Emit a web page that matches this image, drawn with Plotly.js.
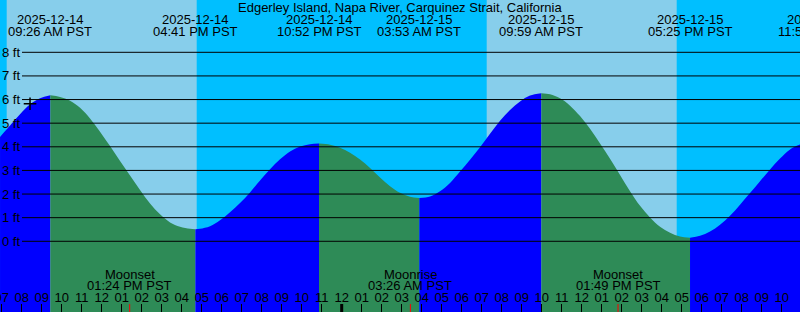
<!DOCTYPE html>
<html><head><meta charset="utf-8">
<script src="https://cdn.plot.ly/plotly-3.0.1.min.js"></script>
<style>html,body{margin:0;padding:0;background:#00BFFF;} #chart{width:800px;height:312px;}</style>
</head><body><div id="chart"></div>
<script>
const stationName = "Edgerley Island, Napa River, Carquinez Strait, California";
const timeZoneLabel = "PST";

// Tide height (ft)
const tideTimes = [
 "2025-12-14 06:55","2025-12-14 07:25","2025-12-14 07:55","2025-12-14 08:25","2025-12-14 08:55",
 "2025-12-14 09:26","2025-12-14 09:55","2025-12-14 10:25","2025-12-14 10:55","2025-12-14 11:25",
 "2025-12-14 11:55","2025-12-14 12:25","2025-12-14 12:55","2025-12-14 13:25","2025-12-14 13:55",
 "2025-12-14 14:25","2025-12-14 14:55","2025-12-14 15:25","2025-12-14 15:55","2025-12-14 16:25",
 "2025-12-14 16:41","2025-12-14 16:55","2025-12-14 17:25","2025-12-14 17:55","2025-12-14 18:25",
 "2025-12-14 18:55","2025-12-14 19:25","2025-12-14 19:55","2025-12-14 20:25","2025-12-14 20:55",
 "2025-12-14 21:25","2025-12-14 21:55","2025-12-14 22:25","2025-12-14 22:52","2025-12-14 23:25",
 "2025-12-14 23:55","2025-12-15 00:25","2025-12-15 00:55","2025-12-15 01:25","2025-12-15 01:55",
 "2025-12-15 02:25","2025-12-15 02:55","2025-12-15 03:25","2025-12-15 03:53","2025-12-15 04:25",
 "2025-12-15 04:55","2025-12-15 05:25","2025-12-15 05:55","2025-12-15 06:25","2025-12-15 06:55",
 "2025-12-15 07:25","2025-12-15 07:55","2025-12-15 08:25","2025-12-15 08:55","2025-12-15 09:25",
 "2025-12-15 09:59","2025-12-15 10:25","2025-12-15 10:55","2025-12-15 11:25","2025-12-15 11:55",
 "2025-12-15 12:25","2025-12-15 12:55","2025-12-15 13:25","2025-12-15 13:55","2025-12-15 14:25",
 "2025-12-15 14:55","2025-12-15 15:25","2025-12-15 15:55","2025-12-15 16:25","2025-12-15 16:55",
 "2025-12-15 17:25","2025-12-15 17:55","2025-12-15 18:25","2025-12-15 18:55","2025-12-15 19:25",
 "2025-12-15 19:55","2025-12-15 20:25","2025-12-15 20:55","2025-12-15 21:25","2025-12-15 21:55",
 "2025-12-15 22:25","2025-12-15 22:55"
];
const tideFeet = [
 4.42,4.90,5.38,5.80,6.06,
 6.18,6.11,5.95,5.65,5.20,
 4.64,4.03,3.40,2.79,2.17,
 1.60,1.14,0.80,0.62,0.53,
 0.51,0.53,0.64,0.89,1.23,
 1.62,2.07,2.57,3.05,3.47,
 3.80,4.01,4.11,4.14,4.09,
 3.96,3.75,3.46,3.10,2.70,
 2.33,2.05,1.89,1.83,1.90,
 2.12,2.47,2.95,3.45,3.98,
 4.55,5.10,5.56,5.92,6.17,
 6.27,6.22,6.05,5.74,5.30,
 4.76,4.14,3.49,2.81,2.12,
 1.50,1.01,0.62,0.36,0.20,
 0.15,0.23,0.41,0.70,1.08,
 1.55,2.04,2.54,3.04,3.50,
 3.89,4.10
];

// High / low tide events
const extremeTimes = ["2025-12-14 09:26","2025-12-14 16:41","2025-12-14 22:52","2025-12-15 03:53","2025-12-15 09:59","2025-12-15 17:25","2025-12-15 23:55"];
const extremeFeet = [6.18,0.51,4.14,1.83,6.27,0.15,4.3];

// Moon events
const moonEventNames = ["Moonset","Moonrise","Moonset"];
const moonEventTimes = ["2025-12-14 13:24","2025-12-15 03:26","2025-12-15 13:49"];

// Daylight
const sunriseTimes = ["2025-12-14 07:15","2025-12-15 07:15"];
const sunsetTimes = ["2025-12-14 16:45","2025-12-15 16:45"];

const midnightTimes = ["2025-12-15 00:00"];
const footLevels = [0,1,2,3,4,5,6,7,8];
const footLabels = ["0 ft","1 ft","2 ft","3 ft","4 ft","5 ft","6 ft","7 ft","8 ft"];
const nowTime = ["2025-12-14 08:25"];
const nowFeet = [5.82];

// ---------- layout settings ----------
const FONT = "Liberation Sans, Arial, Helvetica, sans-serif";
const W = 800, H = 312;
const xRange = ["2025-12-14 06:54:54", "2025-12-15 22:54:54"];
const yRange = [-2.993, 10.214];

function parseT(s){ return Date.parse(s.replace(" ","T") + (s.length===16?":00":"") + "Z"); }
function fracX(s){ return (parseT(s)-parseT(xRange[0]))/(parseT(xRange[1])-parseT(xRange[0])); }
function datePart(s){ return s.slice(0,10); }
function clockPart(s){
  let hh = parseInt(s.slice(11,13),10), mm = s.slice(14,16);
  const ap = hh>=12 ? "PM" : "AM";
  let h12 = hh%12; if(h12===0) h12=12;
  return (h12<10?"0":"")+h12+":"+mm+" "+ap+" "+timeZoneLabel;
}

// ---------- traces ----------
const traces = [];
const breaks = [0];
tideTimes.forEach((t,i)=>{ if(i>0 && i<tideTimes.length-1 && extremeTimes.includes(t)) breaks.push(i); });
breaks.push(tideTimes.length-1);
const yBottom = yRange[0]-1;
for(let k=0;k<breaks.length-1;k++){
  const a=breaks[k], b=breaks[k+1];
  const sx = tideTimes.slice(a,b+1), sy = tideFeet.slice(a,b+1);
  const rising = sy[sy.length-1] > sy[0];
  traces.push({x:[sx[0],sx[sx.length-1]], y:[yBottom,yBottom], mode:"lines", line:{width:0}, hoverinfo:"skip", showlegend:false});
  traces.push({x:sx, y:sy, mode:"lines", line:{width:0, shape:"spline", smoothing:1}, fill:"tonexty",
    fillcolor: rising ? "#0000FF" : "#2E8B57", hoverinfo:"skip", showlegend:false});
}
traces.push({x:nowTime, y:nowFeet, mode:"markers", marker:{symbol:"cross-thin", size:9, color:"black", line:{width:1.5,color:"black"}}, showlegend:false, hoverinfo:"skip"});

// ---------- shapes ----------
const shapes = [];
sunriseTimes.forEach((s,i)=>shapes.push({type:"rect", xref:"x", yref:"paper", x0:s, x1:sunsetTimes[i], y0:0, y1:1,
  fillcolor:"#87CEEB", line:{width:0}, layer:"below"}));
footLevels.forEach(l=>shapes.push({type:"line", xref:"paper", yref:"y", x0:22/W, x1:1, y0:l, y1:l, line:{color:"black", width:1}}));
midnightTimes.forEach(m=>shapes.push({type:"line", xref:"x", yref:"paper", x0:m, x1:m, y0:0, y1:8/H, line:{color:"black", width:3}}));
moonEventTimes.forEach(m=>shapes.push({type:"line", xref:"x", yref:"paper", x0:m, x1:m, y0:0, y1:8/H, line:{color:"red", width:1}}));

// ---------- annotations ----------
const ann = [];
const tf = {family:FONT, size:13, color:"black"};
ann.push({text:stationName, xref:"paper", yref:"paper", x:0.5, y:1-7.5/H, xanchor:"center", yanchor:"middle", showarrow:false, font:tf});
extremeTimes.forEach(t=>{
  const f = fracX(t);
  ann.push({text:datePart(t), xref:"paper", yref:"paper", x:f, y:1-19.5/H, xanchor:"center", yanchor:"middle", showarrow:false, font:tf});
  ann.push({text:clockPart(t), xref:"paper", yref:"paper", x:f, y:1-31.3/H, xanchor:"center", yanchor:"middle", showarrow:false, font:tf});
});
moonEventTimes.forEach((t,i)=>{
  ann.push({text:moonEventNames[i], xref:"x", yref:"paper", x:t, y:1-274/H, xanchor:"center", yanchor:"middle", showarrow:false, font:tf});
  ann.push({text:clockPart(t), xref:"x", yref:"paper", x:t, y:1-285.5/H, xanchor:"center", yanchor:"middle", showarrow:false, font:tf});
});
footLevels.forEach((l,i)=>ann.push({text:footLabels[i], xref:"paper", yref:"y", x:0, y:l, xanchor:"left", yanchor:"middle", xshift:0, showarrow:false, font:tf}));

const layout = {
  width:W, height:H, margin:{l:0,r:0,t:0,b:0,pad:0},
  paper_bgcolor:"#00BFFF", plot_bgcolor:"#00BFFF",
  showlegend:false, font:{family:FONT, size:13, color:"black"},
  xaxis:{type:"date", range:xRange, showgrid:false, zeroline:false, showline:false,
    ticks:"inside", ticklen:8, tickwidth:1, tickcolor:"black",
    dtick:3600000, tick0:"2025-12-14 00:00", tickformat:"%I",
    tickfont:{family:FONT, size:13, color:"black"},
    ticklabelposition:"outside", ticklabelstandoff:-24, ticklabeloverflow:"allow", fixedrange:true},
  yaxis:{range:yRange, showgrid:false, zeroline:false, showline:false, showticklabels:false, ticks:"", fixedrange:true},
  shapes:shapes, annotations:ann
};
Plotly.newPlot("chart", traces, layout, {staticPlot:true, displayModeBar:false});
</script></body></html>
